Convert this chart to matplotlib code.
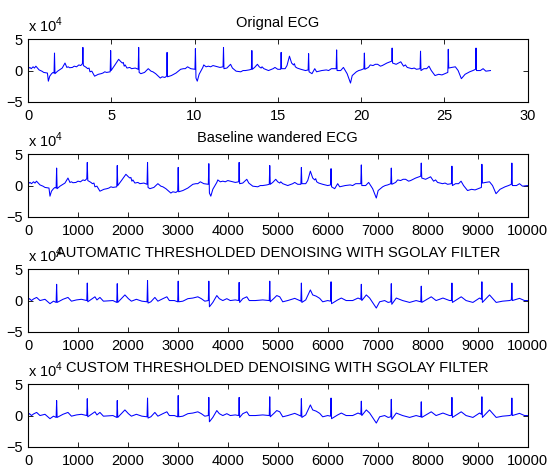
import numpy as np
import matplotlib
matplotlib.use("Agg")
import matplotlib.pyplot as plt

plt.rcParams["font.family"] = ["Liberation Sans", "DejaVu Sans"]
plt.rcParams["mathtext.fontset"] = "custom"
plt.rcParams["mathtext.rm"] = "Liberation Sans"

FS = 360  # sampling rate, Hz

# R-peak sample positions and amplitudes (x 10^4)
beat_samples = [573, 1187, 1787, 2393, 3007, 3620, 4227, 4840,
                5473, 6067, 6673, 7273, 7873, 8487, 9087, 9687]
raw_r_peaks = [2.8, 3.7, 3.2, 3.7, 2.9, 3.5, 3.7, 3.2,
               2.9, 2.7, 3.3, 2.8, 3.6, 3.1, 3.4, 3.6]
auto_r_peaks = [2.6, 2.8, 2.7, 3.2, 3.1, 3.1, 2.9, 3.1,
                2.8, 3.0, 2.6, 2.7, 2.3, 2.8, 3.0, 2.8]
custom_r_peaks = [2.4, 2.7, 2.4, 2.8, 3.2, 2.9, 2.9, 3.0,
                  2.7, 2.8, 2.3, 2.6, 2.2, 2.9, 3.0, 2.8]

# Recorded trace between R peaks: (sample, amplitude x 10^4)
raw_wave = [
    (0, 2.0), (6, 0.3), (40, 0.5), (70, 0.3), (110, 0.6), (140, 0.4),
    (170, 0.7), (240, 0.1), (300, -0.1), (340, -0.3), (420, -0.4),
    (440, -1.7), (470, -0.9), (510, -0.5), (540, -0.3), (563, -0.4),
    (583, -0.5), (640, -0.1), (700, 0.2), (740, 0.4), (800, 1.2),
    (840, 0.5), (870, 0.6), (900, 0.45), (960, 0.5), (1000, 0.7),
    (1050, 0.6), (1100, 0.9), (1140, 0.8), (1177, 1.1), (1197, 0.8),
    (1260, 0.5), (1290, 0.3), (1320, 0.4), (1340, -0.2), (1380, -0.1),
    (1440, -0.9), (1520, -0.6), (1580, -0.5), (1620, -0.4), (1660, -0.2),
    (1700, -0.3), (1777, -0.2), (1797, 0.0), (1880, 0.9), (1960, 1.8),
    (2010, 1.4), (2040, 1.2), (2060, 1.3), (2080, 0.7), (2100, 0.9),
    (2140, 0.4), (2200, 0.5), (2240, 0.3), (2320, 0.4), (2383, 0.2),
    (2403, -0.3), (2440, -0.5), (2520, -0.3), (2600, 0.3), (2660, -0.1),
    (2700, -0.2), (2760, -0.5), (2860, -1.2), (2900, -1.0), (2960, -1.1),
    (2997, -0.9), (3017, -1.0), (3060, -0.9), (3100, -0.8), (3200, -0.4),
    (3300, 0.2), (3360, 0.3), (3400, 0.3), (3450, 0.6), (3520, 0.3),
    (3610, 0.2), (3632, -1.2), (3660, -1.7), (3700, -0.6), (3780, 0.5),
    (3800, 0.9), (3850, 0.6), (3900, 0.7), (3950, 0.6), (4000, 0.8),
    (4050, 0.7), (4100, 0.6), (4150, 0.5), (4217, 0.6), (4237, 0.3),
    (4300, 0.4), (4380, 1.0), (4420, 0.4), (4500, -0.1), (4600, -0.2),
    (4650, 0.0), (4700, 0.0), (4780, 0.1), (4830, 0.2), (4850, 0.2),
    (4900, 0.5), (4960, 1.0), (5000, 0.6), (5040, 0.4), (5060, 0.6),
    (5100, 0.3), (5200, 0.0), (5300, 0.3), (5340, 0.5), (5400, 0.2),
    (5463, 0.2), (5483, 0.3), (5560, 0.3), (5600, 0.8), (5653, 2.3),
    (5700, 1.2), (5740, 0.9), (5760, 1.1), (5780, 0.6), (5820, 0.4),
    (5900, 0.2), (6000, 0.0), (6057, 0.1), (6077, -0.2), (6140, -0.5),
    (6200, 0.3), (6240, -0.2), (6300, -0.1), (6350, 0.0), (6450, 0.1),
    (6500, 0.0), (6560, 0.3), (6663, 0.3), (6683, 0.0), (6760, 0.0),
    (6820, 0.5), (6900, -0.5), (6973, -2.0), (7010, -0.8), (7100, -0.2),
    (7150, 0.0), (7200, 0.1), (7263, 0.3), (7283, 0.2), (7360, 0.5),
    (7400, 0.9), (7460, 0.8), (7510, 1.0), (7560, 1.0), (7620, 0.7),
    (7660, 0.8), (7760, 1.2), (7863, 1.5), (7883, 1.2), (7960, 1.0),
    (8060, 1.4), (8120, 0.7), (8160, 0.9), (8200, 0.5), (8300, 0.3),
    (8350, 0.4), (8400, 0.2), (8477, 0.3), (8497, 0.0), (8560, 0.3),
    (8620, 0.3), (8670, 0.7), (8720, 0.0), (8800, -0.8), (8880, -0.6),
    (8950, -0.7), (9077, -0.3), (9097, 0.4), (9160, 0.5), (9240, 0.6),
    (9300, 0.0), (9370, -1.3), (9450, -0.6), (9550, -0.2), (9620, 0.0),
    (9677, 0.2), (9697, 0.0), (9780, 0.0), (9840, 0.3), (9900, -0.1),
    (9999, 0.0),
]

# Denoised trace between R peaks: (sample, amplitude x 10^4)
clean_wave = [
    (0, 0.1), (30, 0.3), (70, 0.0), (110, 0.25), (173, 0.5), (240, 0.0),
    (340, 0.2), (440, -0.5), (510, -0.1), (563, -0.3), (583, -0.3),
    (700, 0.2), (800, 0.5), (870, -0.1), (970, 0.1), (1070, 0.2),
    (1177, 0.0), (1197, -0.2), (1340, 0.6), (1380, 0.1), (1440, 0.5),
    (1510, -0.1), (1700, 0.0), (1777, -0.3), (1797, -0.3), (1940, 0.9),
    (2010, 0.3), (2070, -0.1), (2170, 0.2), (2280, -0.1), (2383, -0.2),
    (2403, -0.4), (2460, -0.2), (2540, 0.5), (2600, -0.1), (2700, 0.3),
    (2780, 0.6), (2830, 0.0), (2930, 0.0), (2997, -0.2), (3017, -0.2),
    (3100, -0.1), (3200, 0.3), (3300, 0.4), (3400, 0.6), (3470, 0.3),
    (3540, -0.1), (3610, 0.0), (3632, -1.0), (3700, -0.3), (3780, 0.8),
    (3830, 0.3), (3900, 0.0), (3980, 0.3), (4050, 0.0), (4150, 0.1),
    (4217, 0.0), (4237, -0.3), (4300, 0.3), (4380, 0.6), (4430, 0.0),
    (4550, 0.0), (4700, 0.1), (4830, 0.0), (4850, -0.2), (4930, 0.4),
    (4980, 0.8), (5040, 0.6), (5100, -0.2), (5200, 0.0), (5340, 0.35),
    (5440, 0.0), (5463, -0.1), (5483, -0.3), (5560, 0.1), (5653, 1.7),
    (5700, 0.9), (5770, 0.7), (5840, 0.35), (5900, -0.2), (6000, 0.0),
    (6057, -0.1), (6077, -0.5), (6200, 0.1), (6273, 0.4), (6370, 0.0),
    (6500, 0.0), (6607, 0.4), (6663, 0.2), (6683, 0.0), (6773, 0.9),
    (6840, 0.4), (6973, -1.2), (7040, -0.2), (7140, 0.0), (7210, -0.3),
    (7263, -0.2), (7283, -0.6), (7373, 0.4), (7500, 0.0), (7640, -0.3),
    (7770, 0.0), (7863, -0.2), (7883, -0.3), (8073, 0.6), (8170, 0.0),
    (8307, 0.4), (8440, 0.0), (8477, 0.0), (8497, -0.3), (8673, 0.6),
    (8770, 0.0), (8907, -0.3), (9040, 0.4), (9077, 0.2), (9097, -0.3),
    (9240, 0.9), (9373, -0.3), (9500, -0.1), (9640, 0.0), (9677, 0.1),
    (9697, 0.0), (9840, 0.35), (9940, 0.0), (9999, 0.0),
]

titles = ["Orignal ECG", "Baseline wandered ECG",
          "AUTOMATIC THRESHOLDED DENOISING WITH SGOLAY FILTER",
          "CUSTOM THRESHOLDED DENOISING WITH SGOLAY FILTER"]
y_ticks = [-5, 0, 5]
time_ticks = [0, 5, 10, 15, 20, 25, 30]
sample_ticks = [0, 1000, 2000, 3000, 4000, 5000, 6000, 7000, 8000, 9000, 10000]


def trace(wave, beats, peaks):
    pts = sorted(list(wave) + list(zip(beats, peaks)))
    n, v = zip(*pts)
    return np.asarray(n, float), np.asarray(v, float)


raw_n, raw_v = trace(raw_wave, beat_samples, raw_r_peaks)
auto_n, auto_v = trace(clean_wave, beat_samples, auto_r_peaks)
cust_n, cust_v = trace(clean_wave, beat_samples, custom_r_peaks)

series = [(raw_n / FS, raw_v), (raw_n, raw_v), (auto_n, auto_v), (cust_n, cust_v)]

W, H = 549, 468
fig = plt.figure(figsize=(W / 100, H / 100), dpi=100)
fig.patch.set_facecolor("white")

left_px, right_px, h_px = 28, 527.5, 62.5
tops_px = [39.3, 154.3, 269.3, 384.3]
FS_TXT = 10.5

for i, ((x, y), title) in enumerate(zip(series, titles)):
    ax = fig.add_axes([left_px / W, 1 - (tops_px[i] + h_px) / H,
                       (right_px - left_px) / W, h_px / H])
    ax.plot(x, y, color=(0, 0, 1), lw=0.75)
    if i == 0:
        ax.set_xlim(0, 30)
        ax.set_xticks(time_ticks)
    else:
        ax.set_xlim(0, 10000)
        ax.set_xticks(sample_ticks)
    ax.set_ylim(-5, 5)
    ax.set_yticks(y_ticks)
    ax.tick_params(direction="in", top=True, right=True, length=3.5,
                   width=0.6, labelsize=FS_TXT, colors="black")
    ax.tick_params(axis="x", pad=5)
    ax.tick_params(axis="y", pad=4)
    for s in ax.spines.values():
        s.set_linewidth(0.8)
    ax.set_title(title, fontsize=FS_TXT, pad=9)
    ax.annotate(r"x 10$^{\mathregular{4}}$", xy=(0, 1), xycoords="axes fraction",
                xytext=(0, 5), textcoords="offset points",
                ha="left", va="baseline", fontsize=FS_TXT)

fig.savefig("out.png", dpi=100, facecolor="white")
